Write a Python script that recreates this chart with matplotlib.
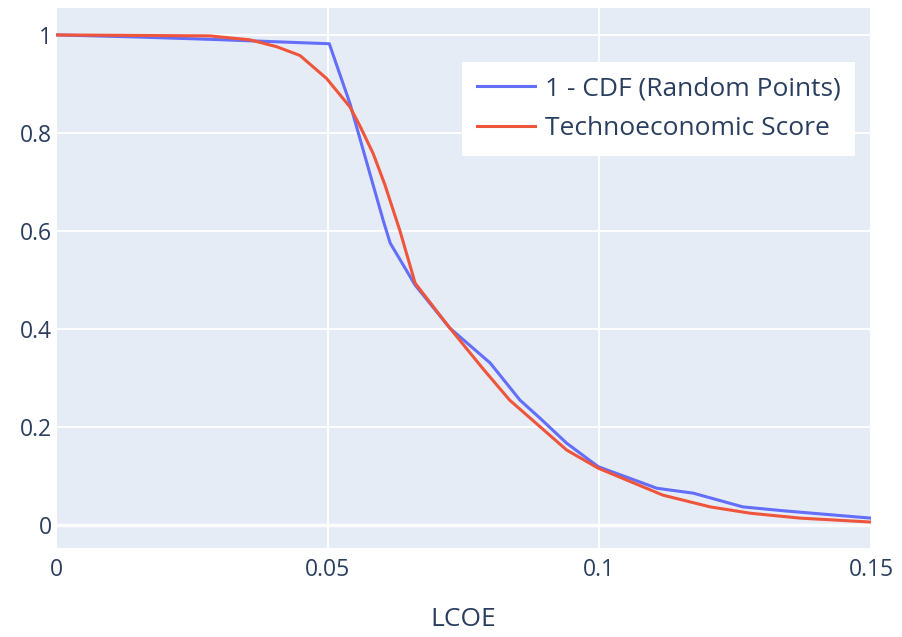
import matplotlib
matplotlib.use("Agg")
import matplotlib.pyplot as plt

# ── Données ──────────────────────────────────────────────────────
lcoe_cdf = [0, 0.0142, 0.0283, 0.0357, 0.0503, 0.0541, 0.0602, 0.0615, 0.0661,
            0.0725, 0.0799, 0.0854, 0.0891, 0.094, 0.0998, 0.1106, 0.1173,
            0.1264, 0.1339, 0.15]
cdf_vals = [1.0, 0.996, 0.991, 0.988, 0.982, 0.860, 0.622, 0.575, 0.489,
            0.401, 0.330, 0.254, 0.217, 0.166, 0.118, 0.074, 0.064,
            0.036, 0.028, 0.013]

lcoe_score = [0, 0.0283, 0.0357, 0.0406, 0.0449, 0.0498, 0.0541, 0.0559, 0.0584,
              0.0605, 0.0633, 0.0661, 0.0725, 0.0786, 0.0835, 0.094, 0.0998,
              0.1117, 0.1204, 0.1278, 0.137, 0.15]
score_vals = [1.0, 0.998, 0.99, 0.976, 0.958, 0.911, 0.853, 0.815, 0.757,
              0.695, 0.600, 0.493, 0.401, 0.318, 0.254, 0.152, 0.115,
              0.06, 0.036, 0.023, 0.013, 0.005]

x_ticks = [0, 0.05, 0.1, 0.15]
x_tick_labels = ["0", "0.05", "0.1", "0.15"]
y_ticks = [0, 0.2, 0.4, 0.6, 0.8, 1]
y_tick_labels = ["0", "0.2", "0.4", "0.6", "0.8", "1"]

# ── Style plotly ─────────────────────────────────────────────────
BG      = "#E5ECF6"
TXT     = "#2a3f5f"
BLUE    = "#636EFA"
RED     = "#EF553B"

plt.rcParams["font.family"] = ["Open Sans", "DejaVu Sans"]

W, H = 903, 637
fig = plt.figure(figsize=(W / 100, H / 100), dpi=100)
ax = fig.add_axes([56 / W, 1 - 548 / H, (871 - 56) / W, (548 - 8) / H])
ax.set_facecolor(BG)

ax.plot(lcoe_cdf, cdf_vals, color=BLUE, lw=2.2, label="1 - CDF (Random Points)")
ax.plot(lcoe_score, score_vals, color=RED, lw=2.2, label="Technoeconomic Score")

ax.set_xlim(0, 0.15)
ax.set_ylim(-0.048, 1.055)
ax.set_xticks(x_ticks, x_tick_labels)
ax.set_yticks(y_ticks, y_tick_labels)
ax.tick_params(length=0, labelsize=16.5, colors=TXT)
ax.tick_params(axis="x", pad=7)
ax.tick_params(axis="y", pad=3)
ax.grid(True, color="white", lw=1.3)
ax.axhline(0, color="white", lw=2.5, zorder=1)
ax.set_axisbelow(True)
for s in ax.spines.values():
    s.set_visible(False)

ax.set_xlabel("LCOE", fontsize=19, color=TXT, labelpad=18)

leg = ax.legend(loc="upper left", bbox_to_anchor=((462 - 56) / (871 - 56), 1 - (62 - 8) / (548 - 8)),
                fontsize=19, frameon=True, fancybox=False, framealpha=1,
                edgecolor="none", facecolor="white", handlelength=2.2,
                handletextpad=0.4, labelspacing=0.55, borderpad=0.55,
                borderaxespad=0)
for t in leg.get_texts():
    t.set_color(TXT)

fig.savefig("out.png", dpi=100)
